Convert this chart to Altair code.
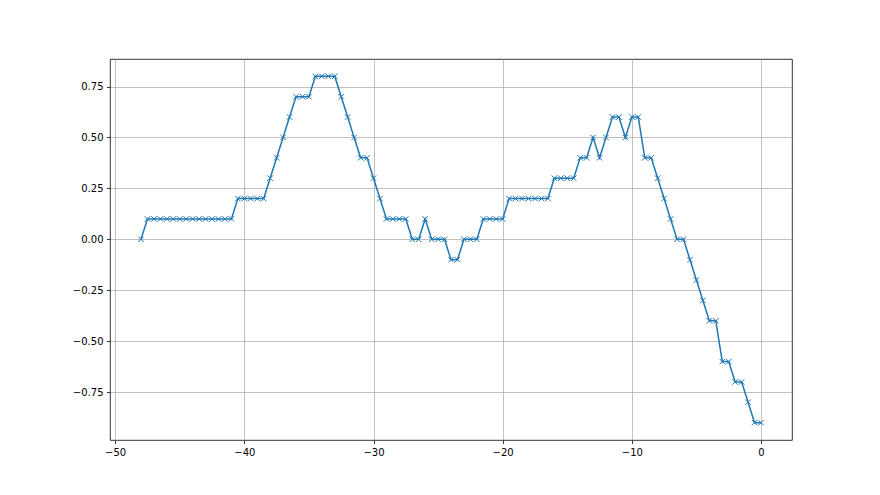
import altair as alt
import pandas as pd

x_start = -48.0
x_step = 0.5
y_values = [
    0.0,
    0.1, 0.1, 0.1, 0.1, 0.1, 0.1, 0.1, 0.1, 0.1, 0.1, 0.1, 0.1, 0.1, 0.1,
    0.2, 0.2, 0.2, 0.2, 0.2,
    0.3, 0.4, 0.5, 0.6,
    0.7, 0.7, 0.7,
    0.8, 0.8, 0.8, 0.8,
    0.7, 0.6, 0.5, 0.4, 0.4, 0.3, 0.2,
    0.1, 0.1, 0.1, 0.1,
    0.0, 0.0, 0.1, 0.0, 0.0, 0.0,
    -0.1, -0.1,
    0.0, 0.0, 0.0,
    0.1, 0.1, 0.1, 0.1,
    0.2, 0.2, 0.2, 0.2, 0.2, 0.2, 0.2,
    0.3, 0.3, 0.3, 0.3,
    0.4, 0.4, 0.5, 0.4, 0.5, 0.6, 0.6, 0.5, 0.6, 0.6,
    0.4, 0.4, 0.3, 0.2, 0.1, 0.0, 0.0,
    -0.1, -0.2, -0.3, -0.4, -0.4,
    -0.6, -0.6, -0.7, -0.7, -0.8, -0.9, -0.9,
]
x_values = [x_start + i * x_step for i in range(len(y_values))]

x_ticks = [-50, -40, -30, -20, -10, 0]
y_ticks = [-0.75, -0.5, -0.25, 0.0, 0.25, 0.5, 0.75]

df = pd.DataFrame({"x": x_values, "y": y_values})

color = "#1f77b4"
xs = alt.X("x:Q", scale=alt.Scale(domain=[-50.4, 2.4], nice=False, zero=False),
           axis=alt.Axis(values=x_ticks, format="d", title=None))
ys = alt.Y("y:Q", scale=alt.Scale(domain=[-0.985, 0.885], nice=False, zero=False),
           axis=alt.Axis(values=y_ticks, format=".2f", title=None))

line = alt.Chart(df).mark_line(color=color, strokeWidth=1.5).encode(x=xs, y=ys)
pts = alt.Chart(df).mark_point(
    shape="M-1,-1L1,1M-1,1L1,-1", filled=False, color=color, size=30, strokeWidth=1, opacity=1
).encode(x="x:Q", y="y:Q")

chart = (line + pts).properties(
    width=682, height=381,
    autosize=alt.AutoSizeParams(type="none"),
    padding={"left": 102, "top": 51, "right": 80, "bottom": 40},
).configure_view(
    stroke="black", strokeWidth=0.8
).configure_axis(
    grid=True, gridColor="#b0b0b0", gridWidth=0.8,
    domain=False, tickColor="black", tickSize=3.5, tickWidth=0.8,
    labelFont="DejaVu Sans", labelFontSize=10, labelColor="black", labelPadding=3.5,
)

chart.save("out.html", embed_options={"renderer": "svg", "actions": False})
